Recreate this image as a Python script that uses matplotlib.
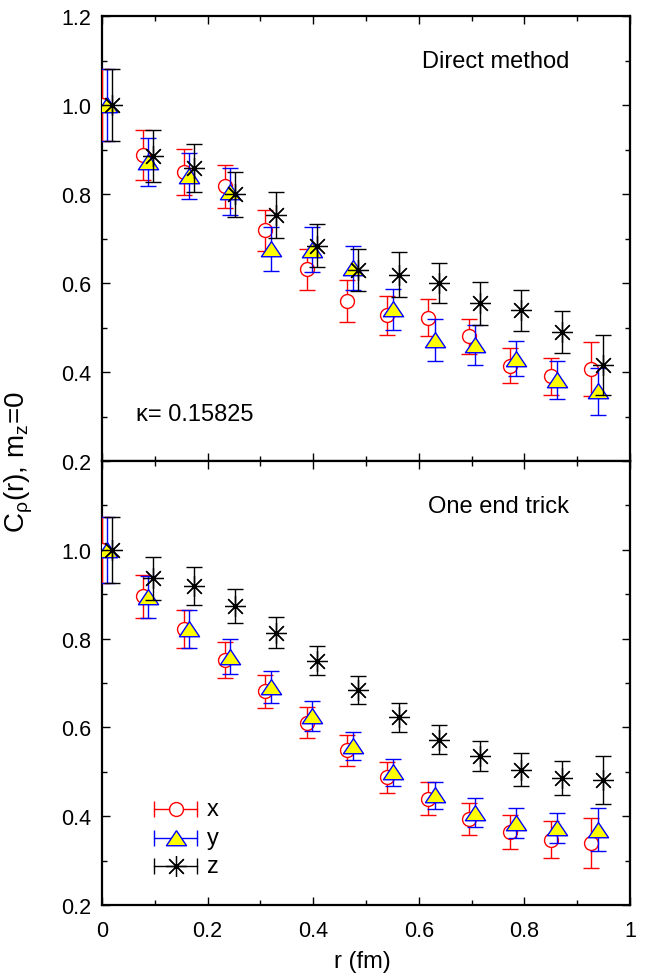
import matplotlib
matplotlib.use("Agg")
import matplotlib.pyplot as plt
from matplotlib.ticker import MultipleLocator

plt.rcParams['font.family'] = ['Liberation Sans', 'DejaVu Sans']
plt.rcParams['mathtext.fontset'] = 'custom'
plt.rcParams['mathtext.rm'] = 'Liberation Sans'
plt.rcParams['mathtext.it'] = 'Liberation Sans'

# ---- data ----
r_x = [0.000, 0.077, 0.155, 0.233, 0.309, 0.388, 0.464, 0.540, 0.617, 0.695, 0.773, 0.850, 0.926]
r_y = [0.010, 0.087, 0.165, 0.243, 0.320, 0.398, 0.475, 0.552, 0.630, 0.707, 0.785, 0.862, 0.940]
r_z = [0.019, 0.097, 0.174, 0.252, 0.330, 0.407, 0.485, 0.562, 0.638, 0.716, 0.794, 0.871, 0.949]

# Direct method (top panel)
direct_x = [1.0, 0.888, 0.850, 0.817, 0.718, 0.631, 0.559, 0.527, 0.522, 0.480, 0.414, 0.390, 0.407]
direct_x_err = [0.080, 0.056, 0.052, 0.048, 0.045, 0.046, 0.047, 0.044, 0.042, 0.040, 0.039, 0.041, 0.060]
direct_y = [1.0, 0.871, 0.840, 0.805, 0.676, 0.675, 0.634, 0.541, 0.472, 0.461, 0.430, 0.382, 0.357]
direct_y_err = [0.080, 0.054, 0.052, 0.053, 0.050, 0.051, 0.050, 0.046, 0.048, 0.045, 0.040, 0.042, 0.053]
direct_z = [1.0, 0.886, 0.858, 0.799, 0.753, 0.684, 0.630, 0.619, 0.600, 0.554, 0.539, 0.489, 0.416]
direct_z_err = [0.080, 0.058, 0.054, 0.051, 0.052, 0.049, 0.047, 0.050, 0.046, 0.048, 0.046, 0.047, 0.068]

# One end trick (bottom panel)
oneend_x = [1.0, 0.895, 0.822, 0.752, 0.681, 0.611, 0.548, 0.488, 0.439, 0.394, 0.364, 0.347, 0.340]
oneend_x_err = [0.075, 0.048, 0.043, 0.040, 0.037, 0.035, 0.034, 0.035, 0.037, 0.036, 0.038, 0.042, 0.056]
oneend_y = [1.0, 0.894, 0.822, 0.759, 0.692, 0.625, 0.558, 0.499, 0.447, 0.408, 0.385, 0.373, 0.370]
oneend_y_err = [0.075, 0.048, 0.043, 0.039, 0.036, 0.034, 0.032, 0.030, 0.031, 0.032, 0.033, 0.034, 0.048]
oneend_z = [1.0, 0.936, 0.919, 0.874, 0.813, 0.750, 0.684, 0.623, 0.572, 0.535, 0.505, 0.486, 0.482]
oneend_z_err = [0.075, 0.048, 0.043, 0.038, 0.035, 0.033, 0.032, 0.033, 0.033, 0.034, 0.037, 0.038, 0.054]

y_ticks = [0.2, 0.4, 0.6, 0.8, 1.0, 1.2]
x_ticks = [0, 0.2, 0.4, 0.6, 0.8, 1.0]
x_ticklabels = ['0', '0.2', '0.4', '0.6', '0.8', '1']
series_labels = ['x', 'y', 'z']

# ---- styles ----
RED = '#ff0000'
BLUE = '#0000ff'
YEL = '#ffff00'
tri = [(0, 0.78), (-1, -0.72), (1, -0.72), (0, 0.78)]
star = (8, 2, 0)
TRI_MS = 14.5
STAR_MS = 15
CIRC_MS = 10

fig = plt.figure(figsize=(6.5, 9.79), dpi=100)
L, R = 102 / 650, 630 / 650
H = 979.0
ax1 = fig.add_axes([L, 1 - 462 / H, R - L, (462 - 17) / H])
ax2 = fig.add_axes([L, 1 - 906 / H, R - L, (906 - 462) / H])

def draw(ax, xs, xe, ys, ye, zs, ze):
    ax.errorbar(r_x, xs, yerr=xe, fmt='o', ms=CIRC_MS, mfc='white', mec=RED, mew=1.0,
                ecolor=RED, elinewidth=1.0, capsize=6, capthick=1.0, zorder=3)
    ax.errorbar(r_y, ys, yerr=ye, fmt='none', ecolor=BLUE, elinewidth=1.0,
                capsize=6, capthick=1.0, zorder=4)
    ax.plot(r_y, ys, linestyle='none', marker=tri, ms=TRI_MS, mfc=YEL, mec=BLUE, mew=1.0, zorder=4.5)
    ax.errorbar(r_z, zs, yerr=ze, fmt='none', ecolor='black', elinewidth=1.0,
                capsize=6, capthick=1.0, zorder=5)
    ax.plot(r_z, zs, linestyle='none', marker=star, ms=STAR_MS, mec='black', mew=0.9, zorder=5.5)
    ax.plot(r_z, zs, linestyle='none', marker='o', ms=2.2, color='black', zorder=5.6)

draw(ax1, direct_x, direct_x_err, direct_y, direct_y_err, direct_z, direct_z_err)
draw(ax2, oneend_x, oneend_x_err, oneend_y, oneend_y_err, oneend_z, oneend_z_err)

for ax in (ax1, ax2):
    ax.set_xlim(0, 1)
    ax.set_ylim(0.2, 1.2)
    ax.set_xticks(x_ticks)
    ax.set_yticks(y_ticks)
    ax.xaxis.set_minor_locator(MultipleLocator(0.1))
    ax.yaxis.set_minor_locator(MultipleLocator(0.1))
    ax.tick_params(which='both', direction='in', top=True, right=True, width=1.0)
    ax.tick_params(which='major', length=6)
    ax.tick_params(which='minor', length=3.5)
    ax.tick_params(axis='y', labelsize=15.5, pad=8)
    ax.tick_params(axis='x', labelsize=15.5, pad=11)
    for s in ax.spines.values():
        s.set_linewidth(1.6)

ax1.set_yticklabels(['0.2', '0.4', '0.6', '0.8', '1.0', '1.2'])
ax2.set_yticklabels(['0.2', '0.4', '0.6', '0.8', '1.0', ''])
ax1.set_xticklabels([])
ax2.set_xticklabels(x_ticklabels)

ax1.text(0.885, 0.885, 'Direct method', transform=ax1.transAxes, ha='right',
         va='baseline', fontsize=17)
ax1.text(0.065, 0.092, 'κ= 0.15825', transform=ax1.transAxes, ha='left',
         va='baseline', fontsize=17)
ax2.text(0.885, 0.885, 'One end trick', transform=ax2.transAxes, ha='right',
         va='baseline', fontsize=17)

# legend (drawn in axes coordinates)
leg_y = [(906 - 810) / 444, (906 - 838.5) / 444, (906 - 867) / 444]
leg_x0, leg_x1 = (154 - 102) / 528, (197 - 102) / 528
leg_xm = (leg_x0 + leg_x1) / 2
leg_styles = [
    dict(color=RED, marker='o', ms=CIRC_MS, mfc='white', mec=RED, mew=1.0),
    dict(color=BLUE, marker=tri, ms=TRI_MS, mfc=YEL, mec=BLUE, mew=1.0),
    dict(color='black', marker=star, ms=STAR_MS, mec='black', mew=0.9),
]
for yy, lab, st in zip(leg_y, series_labels, leg_styles):
    c = st['color']
    ax2.plot([leg_x0, leg_x1], [yy, yy], color=c, lw=1.0, transform=ax2.transAxes, zorder=6)
    ax2.plot([leg_x0, leg_x1], [yy, yy], linestyle='none', marker='|', ms=12, mew=1.0,
             color=c, transform=ax2.transAxes, zorder=6)
    kw = {k: v for k, v in st.items() if k != 'color'}
    ax2.plot([leg_xm], [yy], linestyle='none', transform=ax2.transAxes, zorder=7, **kw)
    ax2.text((207 - 102) / 528, yy, lab, transform=ax2.transAxes, ha='left',
             va='center', fontsize=17)

fig.text(19 / 650, 1 - 462 / H, r'C$_{\mathregular{ρ}}$(r), m$_{\mathregular{z}}$=0',
         rotation=90, ha='center', va='center', fontsize=20)
fig.text(362 / 650, 1 - 962 / H, 'r (fm)', ha='center', va='center', fontsize=17)

fig.savefig('out.png', dpi=100)
